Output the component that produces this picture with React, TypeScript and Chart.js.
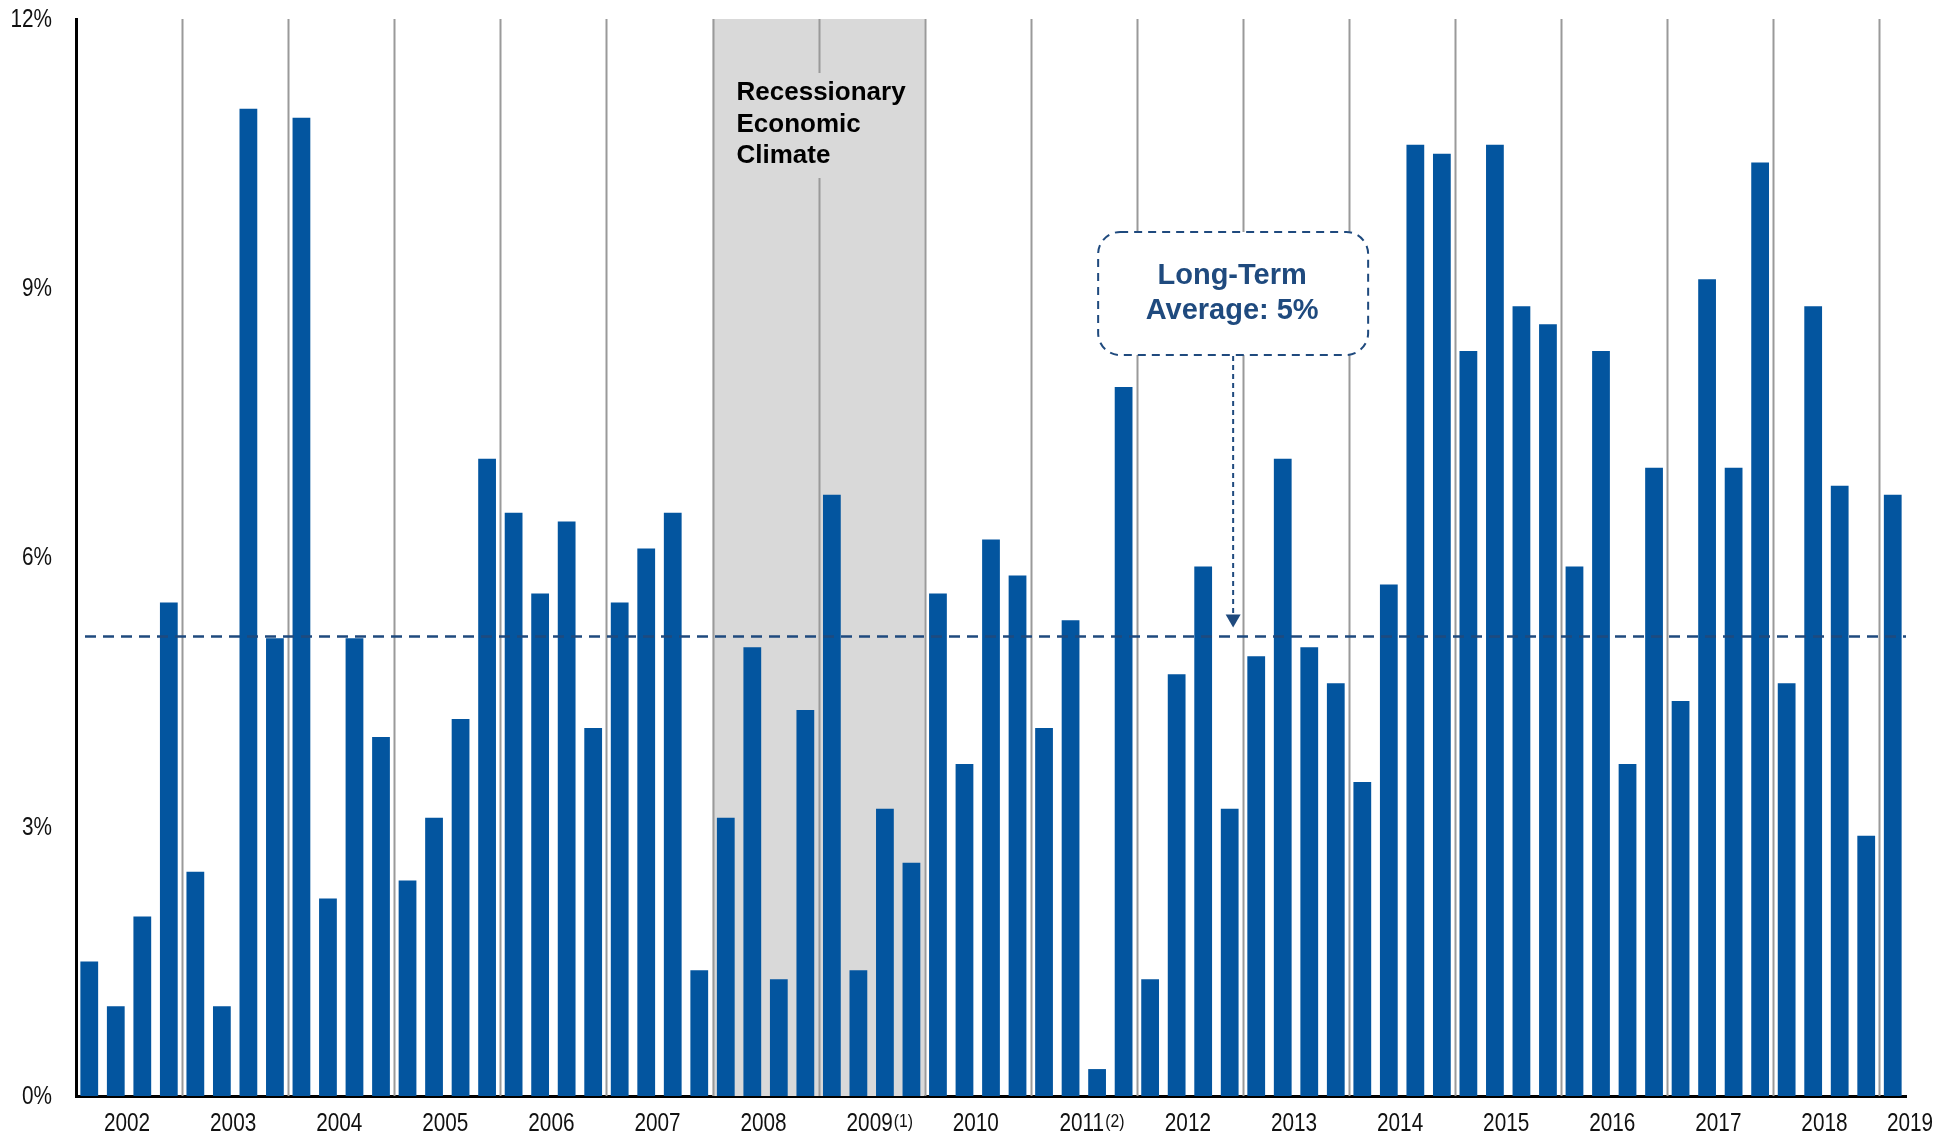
import React, { useEffect, useRef } from "react";
import { Chart, registerables } from "chart.js";

Chart.register(...registerables);

const years = ["2002", "2003", "2004", "2005", "2006", "2007", "2008", "2009", "2010", "2011", "2012", "2013", "2014", "2015", "2016", "2017", "2018", "2019"];
const yearNotes = ["", "", "", "", "", "", "", "(1)", "", "(2)", "", "", "", "", "", "", "", ""];
const quarters = ["Q1", "Q2", "Q3", "Q4"];
const categories: string[] = [];
years.forEach((y, i) => {
  quarters.forEach((q, j) => {
    if (i < years.length - 1 || j === 0) categories.push(`${y} ${q}`);
  });
});

const values = [
  1.5, 1.0, 2.0, 5.5,
  2.5, 1.0, 11.0, 5.1,
  10.9, 2.2, 5.1, 4.0,
  2.4, 3.1, 4.2, 7.1,
  6.5, 5.6, 6.4, 4.1,
  5.5, 6.1, 6.5, 1.4,
  3.1, 5.0, 1.3, 4.3,
  6.7, 1.4, 3.2, 2.6,
  5.6, 3.7, 6.2, 5.8,
  4.1, 5.3, 0.3, 7.9,
  1.3, 4.7, 5.9, 3.2,
  4.9, 7.1, 5.0, 4.6,
  3.5, 5.7, 10.6, 10.5,
  8.3, 10.6, 8.8, 8.6,
  5.9, 8.3, 3.7, 7.0,
  4.4, 9.1, 7.0, 10.4,
  4.6, 8.8, 6.8, 2.9,
  6.7,
];

const yTicks = [0, 3, 6, 9, 12];
const longTermAverage = 5.13;
const recessionStart = "2008 Q1";
const recessionEnd = "2009 Q4";
const recessionLines = ["Recessionary", "Economic", "Climate"];
const averageLines = ["Long-Term", "Average: 5%"];

const SANS = '"Liberation Sans", Arial, sans-serif';
const NAVY = "#1F4A7E";
const TEXT = "#111111";
const NARROW_SCALE = 0.83;

function narrowText(ctx: CanvasRenderingContext2D, text: string, x: number, y: number, size: number, align: CanvasTextAlign, baseline: CanvasTextBaseline) {
  ctx.save();
  ctx.font = `${size}px ${SANS}`;
  ctx.textAlign = align;
  ctx.textBaseline = baseline;
  ctx.translate(x, y);
  ctx.scale(NARROW_SCALE, 1);
  ctx.fillText(text, 0, 0);
  const w = ctx.measureText(text).width * NARROW_SCALE;
  ctx.restore();
  return w;
}

function roundRect(ctx: CanvasRenderingContext2D, x: number, y: number, w: number, h: number, r: number) {
  ctx.beginPath();
  ctx.moveTo(x + r, y);
  ctx.lineTo(x + w - r, y);
  ctx.arcTo(x + w, y, x + w, y + r, r);
  ctx.lineTo(x + w, y + h - r);
  ctx.arcTo(x + w, y + h, x + w - r, y + h, r);
  ctx.lineTo(x + r, y + h);
  ctx.arcTo(x, y + h, x, y + h - r, r);
  ctx.lineTo(x, y + r);
  ctx.arcTo(x, y, x + r, y, r);
  ctx.closePath();
}

const decorPlugin = {
  id: "decor",
  beforeDatasetsDraw(chart: any) {
    const { ctx, chartArea, scales } = chart;
    const xs = scales.x;
    const sp = xs.getPixelForValue(1) - xs.getPixelForValue(0);
    const boundary = (i: number) => xs.getPixelForValue(i) - sp / 2;
    const rs = categories.indexOf(recessionStart);
    const re = categories.indexOf(recessionEnd) + 1;
    ctx.save();
    ctx.fillStyle = "#D9D9D9";
    ctx.fillRect(boundary(rs), chartArea.top, boundary(re) - boundary(rs), chartArea.bottom - chartArea.top);
    ctx.strokeStyle = "#9A9A9A";
    ctx.lineWidth = 2;
    for (let i = 4; i < categories.length; i += 4) {
      const x = Math.round(boundary(i)) + 0.5;
      ctx.beginPath();
      ctx.moveTo(x, chartArea.top);
      ctx.lineTo(x, chartArea.bottom);
      ctx.stroke();
    }
    ctx.fillStyle = "#D9D9D9";
    ctx.fillRect(boundary(rs) + 14, chartArea.top + 54, boundary(re) - boundary(rs) - 28, 105);
    ctx.restore();
  },
  afterDatasetsDraw(chart: any) {
    const { ctx, chartArea, scales } = chart;
    const xs = scales.x;
    const ys = scales.y;
    const sp = xs.getPixelForValue(1) - xs.getPixelForValue(0);
    const boundary = (i: number) => xs.getPixelForValue(i) - sp / 2;
    const rs = categories.indexOf(recessionStart);
    ctx.save();
    ctx.fillStyle = "#000";
    ctx.font = `bold 26px ${SANS}`;
    ctx.textAlign = "left";
    ctx.textBaseline = "middle";
    recessionLines.forEach((t, i) => {
      ctx.fillText(t, boundary(rs) + 24, chartArea.top + 74 + i * 31.5);
    });
    const ay = Math.round(ys.getPixelForValue(longTermAverage)) + 0.5;
    ctx.strokeStyle = NAVY;
    ctx.lineWidth = 2.5;
    ctx.setLineDash([11, 7]);
    ctx.beginPath();
    ctx.moveTo(chartArea.left + 9, ay);
    ctx.lineTo(chartArea.right, ay);
    ctx.stroke();
    const cx = xs.getPixelForValue(categories.indexOf("2012 Q4")) + sp * 0.13;
    const bw = 270;
    const bx = cx - bw / 2;
    const by = chartArea.top + 213;
    const bh = 123;
    ctx.setLineDash([8, 6]);
    ctx.lineWidth = 2;
    roundRect(ctx, bx, by, bw, bh, 22);
    ctx.fillStyle = "#fff";
    ctx.fill();
    ctx.stroke();
    ctx.fillStyle = NAVY;
    ctx.font = `bold 29px ${SANS}`;
    ctx.textAlign = "center";
    ctx.textBaseline = "middle";
    ctx.fillText(averageLines[0], cx - 1, by + 44);
    ctx.fillText(averageLines[1], cx - 1, by + 79);
    const tipY = ay - 9;
    ctx.setLineDash([5, 4]);
    ctx.lineWidth = 2;
    ctx.beginPath();
    ctx.moveTo(cx, by + bh + 1);
    ctx.lineTo(cx, tipY - 10);
    ctx.stroke();
    ctx.setLineDash([]);
    ctx.beginPath();
    ctx.moveTo(cx - 7.5, tipY - 13);
    ctx.lineTo(cx + 7.5, tipY - 13);
    ctx.lineTo(cx, tipY);
    ctx.closePath();
    ctx.fill();
    ctx.restore();
  },
  afterDraw(chart: any) {
    const { ctx, chartArea, scales } = chart;
    const xs = scales.x;
    const ys = scales.y;
    const sp = xs.getPixelForValue(1) - xs.getPixelForValue(0);
    ctx.save();
    ctx.fillStyle = TEXT;
    yTicks.forEach((v) => {
      narrowText(ctx, `${v}%`, chartArea.left - 24, ys.getPixelForValue(v) + 1, 25, "right", "middle");
    });
    const ly = chartArea.bottom + 28;
    years.forEach((yr, k) => {
      let x: number;
      if (k < years.length - 1) {
        x = (xs.getPixelForValue(4 * k + 1) + xs.getPixelForValue(4 * k + 2)) / 2 - 2;
      } else {
        x = xs.getPixelForValue(4 * k) + sp * 0.65;
      }
      const w = narrowText(ctx, yr, x, ly, 25, "center", "middle");
      if (yearNotes[k]) {
        narrowText(ctx, yearNotes[k], x + w / 2 + 1, ly - 12, 19, "left", "top");
      }
    });
    ctx.restore();
  },
};

export default function App() {
  const ref = useRef<HTMLCanvasElement | null>(null);
  useEffect(() => {
    document.body.style.margin = "0";
    const canvas = ref.current;
    if (!canvas) return;
    const chart = new Chart(canvas, {
      type: "bar",
      data: {
        labels: categories,
        datasets: [
          {
            data: values,
            backgroundColor: "#03559F",
            borderWidth: 0,
            barPercentage: 0.67,
            categoryPercentage: 1,
          },
        ],
      },
      options: {
        responsive: false,
        animation: false,
        devicePixelRatio: 1,
        layout: { padding: { top: 19, right: 50, left: 0, bottom: 0 } },
        plugins: { legend: { display: false }, tooltip: { enabled: false } },
        scales: {
          x: {
            type: "category",
            grid: { display: false, drawTicks: false },
            ticks: { display: false },
            border: { display: true, color: "#000", width: 3 },
            afterFit: (s: any) => {
              s.height = 40;
            },
          },
          y: {
            min: 0,
            max: 12,
            afterBuildTicks: (s: any) => {
              s.ticks = yTicks.map((v) => ({ value: v }));
            },
            ticks: { display: false },
            grid: { display: false, drawTicks: false },
            border: { display: true, color: "#000", width: 3 },
            afterFit: (s: any) => {
              s.width = 76;
            },
          },
        },
      },
      plugins: [decorPlugin],
    } as any);
    return () => chart.destroy();
  }, []);
  return <canvas ref={ref} width={1956} height={1136} style={{ display: "block" }} />;
}
